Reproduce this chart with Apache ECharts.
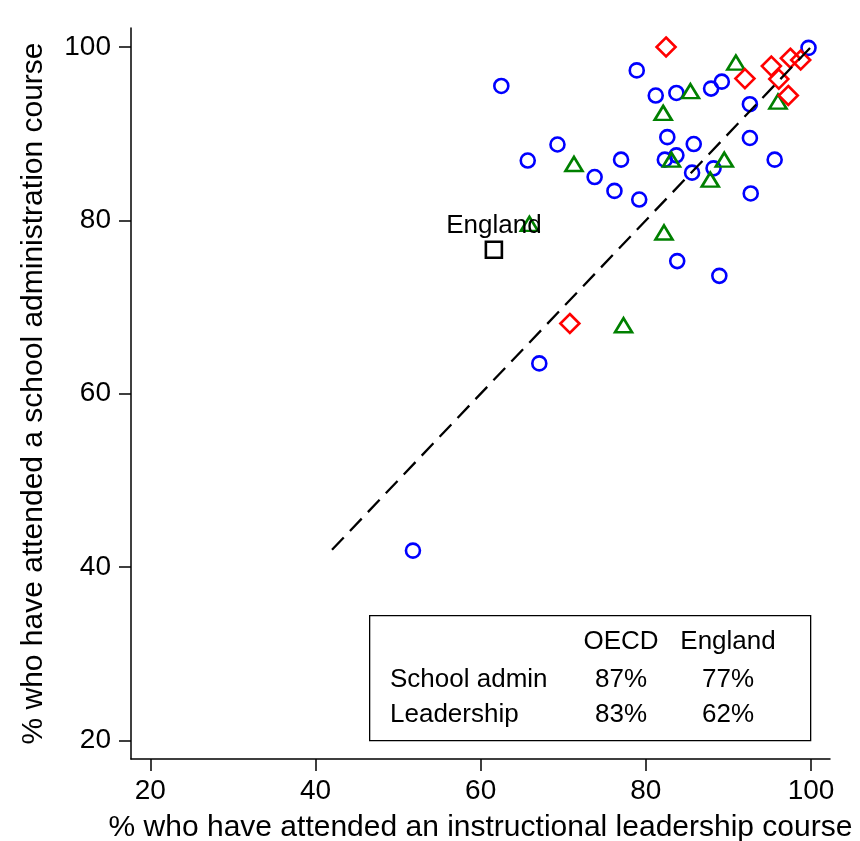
<!DOCTYPE html>
<html>
<head>
<meta charset="utf-8">
<script src="https://cdn.jsdelivr.net/npm/echarts@6/dist/echarts.min.js"></script>
<style>
html,body{margin:0;padding:0;background:#fff;}
#chart{width:860px;height:841px;}
</style>
</head>
<body>
<div id="chart"></div>
<script>
// ---- data ----
var xTicks = [20, 40, 60, 80, 100];
var yTicks = [20, 40, 60, 80, 100];
var xTitle = '% who have attended an instructional leadership course';
var yTitle = '% who have attended a school administration course';

// group 1: blue circles [leadership, school admin]
var circlePts = [
  [62.5, 95.5], [78.9, 97.3], [81.2, 94.4], [83.7, 94.7], [87.9, 95.2],
  [89.2, 96.0], [99.7, 99.9], [92.6, 93.4], [92.6, 89.5], [82.6, 89.6],
  [85.8, 88.8], [69.3, 88.75], [65.7, 86.9], [77.0, 87.0], [82.3, 87.0],
  [83.7, 87.5], [95.6, 87.0], [73.8, 85.0], [76.2, 83.4], [79.2, 82.4],
  [85.6, 85.5], [88.2, 86.0], [92.7, 83.1], [83.8, 75.3], [88.9, 73.6],
  [67.1, 63.5], [51.8, 41.9]
];
// group 2: green triangles
var trianglePts = [
  [90.9, 98.2], [85.4, 94.9], [82.1, 92.4], [96.0, 93.7], [71.3, 86.5],
  [83.1, 87.0], [89.5, 87.0], [87.8, 84.7], [65.9, 79.6], [82.2, 78.6],
  [77.3, 67.9]
];
// group 3: red diamonds
var diamondPts = [
  [82.45, 100.0], [92.0, 96.35], [95.2, 97.8], [97.5, 98.7], [98.75, 98.5],
  [96.1, 96.3], [97.25, 94.4], [70.8, 68.1]
];
// England
var englandName = 'England';
var englandPt = [61.6, 76.6];
// 45-degree reference line end points
var refLine = [[42, 42], [100, 100]];

// summary table
var tableCols = ['OECD', 'England'];
var tableRows = ['School admin', 'Leadership'];
var tableVals = [['87%', '77%'], ['83%', '62%']];

// ---- chart ----
var FONT = '"Liberation Sans", Arial, Helvetica, sans-serif';
var chart = echarts.init(document.getElementById('chart'), null, {renderer: 'canvas'});

var tableGraphics = [];
tableGraphics.push({
  type: 'rect', left: 369, top: 615,
  shape: {width: 441, height: 125},
  style: {fill: '#fff', stroke: '#000', lineWidth: 1.3}, z: 100
});
var colX = [621, 728];
var rowY = [680, 715];
tableCols.forEach(function (c, i) {
  tableGraphics.push({type: 'text', x: colX[i], y: 642, z: 101,
    style: {text: c, font: '26px ' + FONT, fill: '#000', align: 'center', verticalAlign: 'middle'}});
});
tableRows.forEach(function (r, j) {
  tableGraphics.push({type: 'text', x: 390, y: rowY[j], z: 101,
    style: {text: r, font: '26px ' + FONT, fill: '#000', align: 'left', verticalAlign: 'middle'}});
  tableVals[j].forEach(function (v, i) {
    tableGraphics.push({type: 'text', x: colX[i], y: rowY[j], z: 101,
      style: {text: v, font: '26px ' + FONT, fill: '#000', align: 'center', verticalAlign: 'middle'}});
  });
});

var hollow = function (col) {
  return {color: 'rgba(0,0,0,0)', borderColor: col, borderWidth: 2.6, opacity: 1};
};

var option = {
  backgroundColor: '#fff',
  animation: false,
  textStyle: {fontFamily: FONT},
  grid: {left: 131, right: 30, top: 28, bottom: 82, containLabel: false, outerBoundsMode: 'none'},
  xAxis: {
    type: 'value', min: 17.66, max: 102.3,
    name: xTitle, nameLocation: 'middle', nameGap: 54,
    nameTextStyle: {fontSize: 30, color: '#000', fontFamily: FONT},
    axisLine: {show: true, lineStyle: {color: '#000', width: 1.5}},
    axisTick: {show: true, inside: false, customValues: xTicks, length: 12, lineStyle: {color: '#000', width: 1.5}},
    axisLabel: {show: true, customValues: xTicks, fontSize: 28, color: '#000', margin: 18, fontFamily: FONT},
    splitLine: {show: false}
  },
  yAxis: {
    type: 'value', min: 17.86, max: 102.19,
    name: yTitle, nameLocation: 'middle', nameGap: 82, nameRotate: 90,
    nameTextStyle: {fontSize: 30, color: '#000', fontFamily: FONT},
    axisLine: {show: true, lineStyle: {color: '#000', width: 1.5}},
    axisTick: {show: true, inside: false, customValues: yTicks, length: 12, lineStyle: {color: '#000', width: 1.5}},
    axisLabel: {show: true, customValues: yTicks, fontSize: 28, color: '#000', margin: 20, fontFamily: FONT},
    splitLine: {show: false}
  },
  series: [
    {type: 'scatter', data: circlePts, symbol: 'circle', symbolSize: 14, itemStyle: hollow('#0000ff'), z: 3},
    {type: 'scatter', data: trianglePts, symbol: 'triangle', symbolSize: [17, 14], itemStyle: hollow('#008000'), z: 3},
    {type: 'scatter', data: diamondPts, symbol: 'diamond', symbolSize: 19, itemStyle: hollow('#ff0000'), z: 3},
    {type: 'scatter', data: [englandPt], symbol: 'rect', symbolSize: 16, itemStyle: hollow('#000000'), z: 3,
      label: {show: true, position: 'top', distance: 2, formatter: englandName, fontSize: 26, color: '#000', opacity: 1, fontFamily: FONT}},
    {type: 'line', data: refLine, symbol: 'none', silent: true, z: 4,
      lineStyle: {color: '#000', width: 2.3, type: [17, 9], opacity: 1}}
  ],
  graphic: tableGraphics
};
chart.setOption(option);
</script>
</body>
</html>
